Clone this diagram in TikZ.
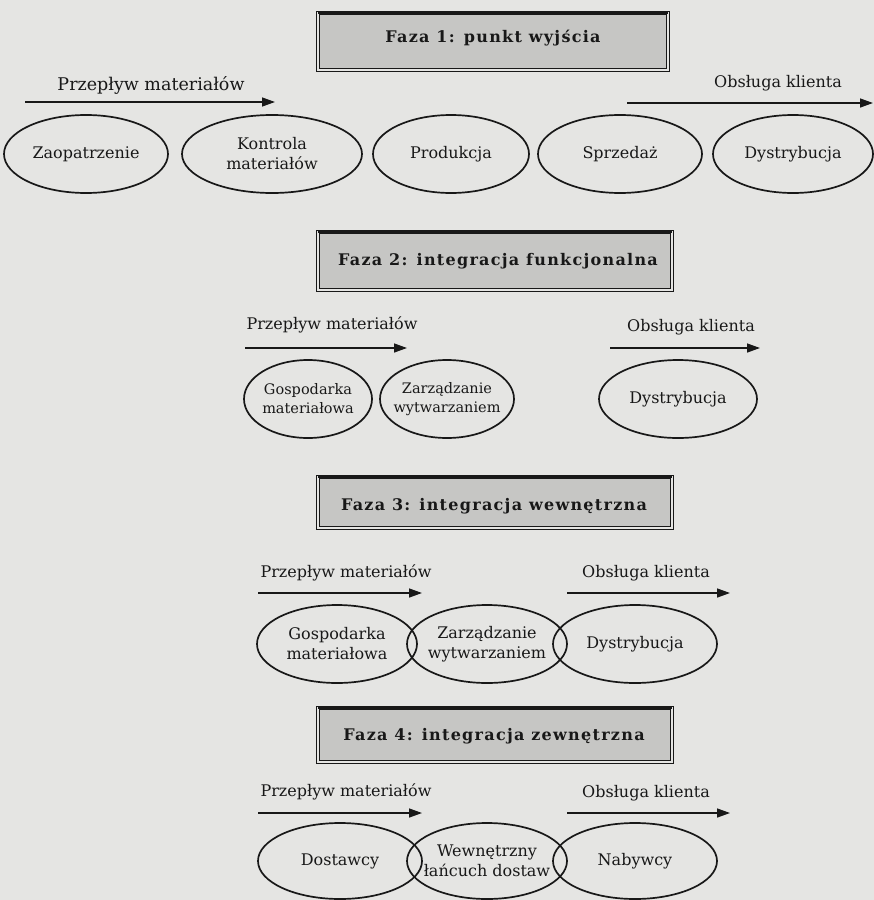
\documentclass[tikz,border=0pt]{standalone}
\usepackage{fontspec}
\setmainfont{DejaVu Serif}
\newfontfamily\platefont[LetterSpace=8,BoldFont={DejaVu Serif Bold}]{DejaVu Serif}
\usetikzlibrary{shapes.geometric,arrows.meta}

\definecolor{paper}{RGB}{229,229,227}
\definecolor{ink}{RGB}{24,24,24}
\definecolor{platefill}{RGB}{198,198,196}

\tikzset{
  stage/.style={ellipse, draw=ink, line width=1.7pt, inner sep=0pt, minimum height=78},
  stagetext/.style={font=\fontsize{16}{20}\selectfont, text=ink, align=center, inner sep=0pt},
  smallstagetext/.style={stagetext, font=\fontsize{14.5}{19}\selectfont},
  flowlabel/.style={font=\fontsize{16}{19}\selectfont, text=ink, inner sep=0pt},
  flow/.style={draw=ink, line width=1.4pt, -{Triangle[length=13pt,width=9pt]}},
  plate/.style={rectangle, draw=ink, line width=0.9pt, double=paper, double distance=2.5pt,
                fill=platefill, inner sep=0pt},
  platetop/.style={draw=ink, line width=2.6pt},
  platetext/.style={font=\platefont\bfseries\fontsize{16}{19}\selectfont, text=ink, inner sep=0pt}
}

\begin{document}
\begin{tikzpicture}[x=1pt,y=-1pt]
  \useasboundingbox (0,0) rectangle (874,900);
  \fill[paper] (0,0) rectangle (874,900);

  % ---------- Phase 1 ----------
  \node[plate, minimum width=350, minimum height=57] (b1) at (493,41.5) {};
  \draw[platetop] (b1.north west) -- (b1.north east);
  \node[platetext] (t1) at (493,38) {Faza 1: punkt wyjścia};

  \node[flowlabel, font=\fontsize{17.5}{20}\selectfont] (l1a) at (151,85) {Przepływ materiałów};
  \node[flowlabel] (l1b) at (778,83) {Obsługa klienta};
  \coordinate (m1s) at (25,102);  \coordinate (m1e) at (275,102);
  \coordinate (c1s) at (627,103); \coordinate (c1e) at (873,103);
  \draw[flow] (m1s) -- (m1e);
  \draw[flow] (c1s) -- (c1e);

  \node[stage, minimum width=164, label={[stagetext]center:Zaopatrzenie}] (e11) at (86,154) {};
  \node[stage, minimum width=180, label={[stagetext]center:Kontrola\\materiałów}] (e12) at (272,154) {};
  \node[stage, minimum width=156, label={[stagetext]center:Produkcja}] (e13) at (451,154) {};
  \node[stage, minimum width=164, label={[stagetext]center:Sprzedaż}] (e14) at (620,154) {};
  \node[stage, minimum width=160, label={[stagetext]center:Dystrybucja}] (e15) at (793,154) {};

  % ---------- Phase 2 ----------
  \node[plate, minimum width=354, minimum height=58] (b2) at (495,261) {};
  \draw[platetop] (b2.north west) -- (b2.north east);
  \node[platetext] (t2) at (498,261) {Faza 2: integracja funkcjonalna};

  \node[flowlabel] (l2a) at (332,325) {Przepływ materiałów};
  \node[flowlabel] (l2b) at (691,327) {Obsługa klienta};
  \coordinate (m2s) at (245,348); \coordinate (m2e) at (407,348);
  \coordinate (c2s) at (610,348); \coordinate (c2e) at (760,348);
  \draw[flow] (m2s) -- (m2e);
  \draw[flow] (c2s) -- (c2e);

  \node[stage, minimum width=128, label={[smallstagetext]center:Gospodarka\\materiałowa}] (e21) at (308,399) {};
  \node[stage, minimum width=134, label={[smallstagetext]center:Zarządzanie\\wytwarzaniem}] (e22) at (447,399) {};
  \node[stage, minimum width=158, label={[stagetext]center:Dystrybucja}] (e23) at (678,399) {};

  % ---------- Phase 3 ----------
  \node[plate, minimum width=354, minimum height=51] (b3) at (495,502.5) {};
  \draw[platetop] (b3.north west) -- (b3.north east);
  \node[platetext] (t3) at (494,506) {Faza 3: integracja wewnętrzna};

  \node[flowlabel] (l3a) at (346,573) {Przepływ materiałów};
  \node[flowlabel] (l3b) at (646,573) {Obsługa klienta};
  \coordinate (m3s) at (258,593); \coordinate (m3e) at (422,593);
  \coordinate (c3s) at (567,593); \coordinate (c3e) at (730,593);
  \draw[flow] (m3s) -- (m3e);
  \draw[flow] (c3s) -- (c3e);

  \node[stage, minimum width=160, label={[stagetext]center:Gospodarka\\materiałowa}] (e31) at (337,644) {};
  \node[stage, minimum width=160, label={[stagetext]center:Zarządzanie\\wytwarzaniem}] (e32) at (487,644) {};
  \node[stage, minimum width=164, label={[stagetext]center:Dystrybucja}] (e33) at (635,644) {};

  % ---------- Phase 4 ----------
  \node[plate, minimum width=354, minimum height=54] (b4) at (495,735) {};
  \draw[platetop] (b4.north west) -- (b4.north east);
  \node[platetext] (t4) at (494,736) {Faza 4: integracja zewnętrzna};

  \node[flowlabel] (l4a) at (346,792) {Przepływ materiałów};
  \node[flowlabel] (l4b) at (646,793) {Obsługa klienta};
  \coordinate (m4s) at (258,813); \coordinate (m4e) at (422,813);
  \coordinate (c4s) at (567,813); \coordinate (c4e) at (730,813);
  \draw[flow] (m4s) -- (m4e);
  \draw[flow] (c4s) -- (c4e);

  \node[stage, minimum width=164, minimum height=76, label={[stagetext]center:Dostawcy}] (e41) at (340,861) {};
  \node[stage, minimum width=160, minimum height=76, label={[stagetext]center:Wewnętrzny\\łańcuch dostaw}] (e42) at (487,861) {};
  \node[stage, minimum width=164, minimum height=76, label={[stagetext]center:Nabywcy}] (e43) at (635,861) {};
\end{tikzpicture}
\end{document}
